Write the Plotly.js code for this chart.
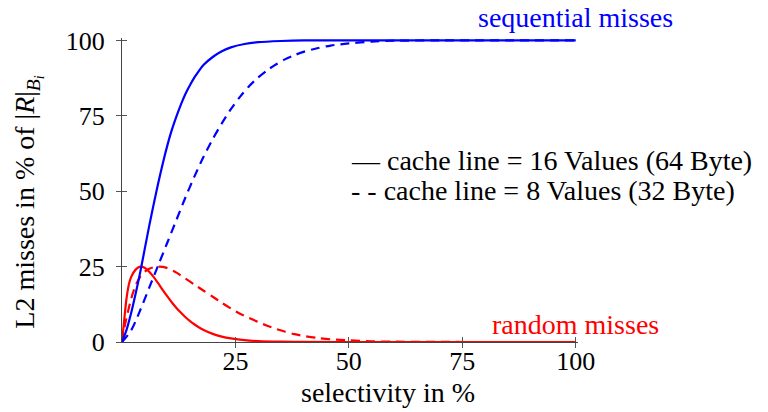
<!DOCTYPE html>
<html>
<head>
<meta charset="utf-8">
<script src="https://cdn.plot.ly/plotly-3.0.1.min.js"></script>
<style>
  html, body { margin: 0; padding: 0; background: #fff; }
  #chart { width: 768px; height: 412px; }
</style>
</head>
<body>
<div id="chart"></div>
<script>
// L2 misses vs. selectivity, for two cache line sizes

// sequential misses, cache line = 16 values
const seq16X = [0, 1, 2, 3, 4, 5, 6, 7, 8, 9, 10, 11, 12, 13, 14, 15, 16, 17, 18, 20, 22, 24, 27, 30, 35, 40, 100];
const seq16Y = [0, 4, 9.5, 16, 23, 30.8, 38.5, 45.8, 52.8, 59.3, 65.2, 70.4, 74.8, 78.8, 82.3, 85.2, 87.8, 90, 91.9, 94.5, 96.4, 97.7, 98.8, 99.4, 99.8, 100, 100];

// sequential misses, cache line = 8 values
const seq8X = [0, 2, 4, 6, 8, 10, 12, 14, 16, 18, 20, 22, 24, 26, 28, 30, 32, 34, 36, 38, 40, 43, 46, 50, 55, 60, 70, 100];
const seq8Y = [0, 3.8, 10.5, 18, 25.5, 33, 40.5, 48, 55, 61.5, 67.3, 72.5, 77.2, 81.3, 84.8, 87.7, 90.1, 92.1, 93.8, 95.1, 96.2, 97.4, 98.3, 99, 99.6, 99.9, 100, 100];

// random misses, cache line = 16 values
const rnd16X = [0, 0.5, 1, 1.5, 2, 3, 4, 5, 6, 7, 8, 9, 10, 11, 12, 13, 14, 15, 16, 17, 18, 20, 22, 24, 27, 30, 35, 40, 50, 100];
const rnd16Y = [0, 7.5, 14.5, 19, 21.5, 24, 25, 24.6, 23.3, 21.5, 19.4, 17.2, 15.1, 13.1, 11.3, 9.7, 8.2, 6.9, 5.8, 4.8, 4, 2.7, 1.8, 1.2, 0.6, 0.3, 0.1, 0.03, 0, 0];

// random misses, cache line = 8 values
const rnd8X = [0, 0.5, 1, 2, 3, 4, 5, 6, 7, 8, 9, 10, 12, 14, 16, 18, 20, 22, 24, 26, 28, 30, 32, 34, 36, 38, 40, 43, 46, 50, 55, 60, 70, 100];
const rnd8Y = [0, 4.5, 8, 14.2, 18.8, 21.6, 23.3, 24.3, 24.8, 25, 24.9, 24.5, 23, 21, 19, 17, 15, 13, 11.1, 9.4, 8, 6.6, 5.4, 4.3, 3.4, 2.6, 2, 1.35, 0.9, 0.55, 0.25, 0.1, 0.02, 0];

const xTicks = [25, 50, 75, 100];
const yTicks = [0, 25, 50, 75, 100];

const legendLines = [
  "\u2014 cache line = 16 Values (64 Byte)",
  "- - cache line = 8 Values (32 Byte)"
];

const BLUE = "#0000ff";
const RED = "#ff0000";
const FONT = "Liberation Serif, Times New Roman, serif";
const DASH = "9px,6px";
const TEXT_SIZE = 28;

function curve(x, y, color, dash) {
  return {
    x: x, y: y, type: "scatter", mode: "lines",
    line: { color: color, width: 2.2, dash: dash, shape: "spline", smoothing: 0.8 },
    hoverinfo: "skip", showlegend: false
  };
}

const traces = [
  curve(rnd8X, rnd8Y, RED, DASH),
  curve(rnd16X, rnd16Y, RED, "solid"),
  curve(seq8X, seq8Y, BLUE, DASH),
  curve(seq16X, seq16Y, BLUE, "solid"),
  // carrier for the inner half of the crossing tick marks
  { x: [null], y: [null], xaxis: "x2", yaxis: "y2", type: "scatter", mode: "lines",
    hoverinfo: "skip", showlegend: false }
];

const X_RANGE = [0, 100.5];
const Y_RANGE = [0, 100.8];

const axisCommon = {
  showgrid: false, zeroline: false, showline: true,
  linecolor: "#444", linewidth: 1,
  ticks: "outside", ticklen: 5, tickwidth: 1, tickcolor: "#555",
  tickfont: { family: FONT, size: 26, color: "#000" },
  fixedrange: true
};

const layout = {
  width: 768, height: 412,
  margin: { l: 122, r: 190, t: 38, b: 70 },
  paper_bgcolor: "#fff", plot_bgcolor: "#fff",
  xaxis: Object.assign({}, axisCommon, {
    range: X_RANGE, tickmode: "array", tickvals: xTicks, ticktext: xTicks.map(String),
    ticklabelstandoff: -9
  }),
  yaxis: Object.assign({}, axisCommon, {
    range: Y_RANGE, tickmode: "array", tickvals: yTicks, ticktext: yTicks.map(String),
    ticklabelstandoff: 6
  }),
  xaxis2: {
    overlaying: "x", range: X_RANGE, showgrid: false, zeroline: false, showline: false,
    ticks: "inside", ticklen: 5, tickwidth: 1, tickcolor: "#555",
    tickmode: "array", tickvals: xTicks, showticklabels: false, fixedrange: true
  },
  yaxis2: {
    overlaying: "y", range: Y_RANGE, showgrid: false, zeroline: false, showline: false,
    ticks: "inside", ticklen: 5, tickwidth: 1, tickcolor: "#555",
    tickmode: "array", tickvals: yTicks, showticklabels: false, fixedrange: true
  },
  annotations: [
    { text: "sequential misses", xref: "paper", yref: "paper", x: 0.994, y: 1.068,
      xanchor: "center", yanchor: "middle", showarrow: false,
      font: { family: FONT, size: TEXT_SIZE, color: BLUE } },
    { text: "random misses", xref: "x", yref: "y", x: 100, y: 5.7,
      xanchor: "center", yanchor: "middle", showarrow: false,
      font: { family: FONT, size: TEXT_SIZE, color: RED } },
    { text: legendLines[0], xref: "x", yref: "y", x: 50, y: 60.3,
      xanchor: "left", yanchor: "middle", showarrow: false,
      font: { family: FONT, size: TEXT_SIZE, color: "#000" } },
    { text: legendLines[1], xref: "x", yref: "y", x: 50, y: 50.4,
      xanchor: "left", yanchor: "middle", showarrow: false,
      font: { family: FONT, size: TEXT_SIZE, color: "#000" } },
    { text: "selectivity in %", xref: "paper", yref: "paper", x: 0.584, y: -0.165,
      xanchor: "center", yanchor: "middle", showarrow: false,
      font: { family: FONT, size: TEXT_SIZE, color: "#000" } },
    { text: "L2 misses in % of |<i>R</i>|<sub><i>B<sub>i</sub></i></sub>",
      xref: "paper", yref: "paper", x: -0.205, y: 0.46, textangle: -90,
      xanchor: "center", yanchor: "middle", showarrow: false,
      font: { family: FONT, size: TEXT_SIZE, color: "#000" } }
  ]
};

Plotly.newPlot("chart", traces, layout, { staticPlot: true, displayModeBar: false });
</script>
</body>
</html>
